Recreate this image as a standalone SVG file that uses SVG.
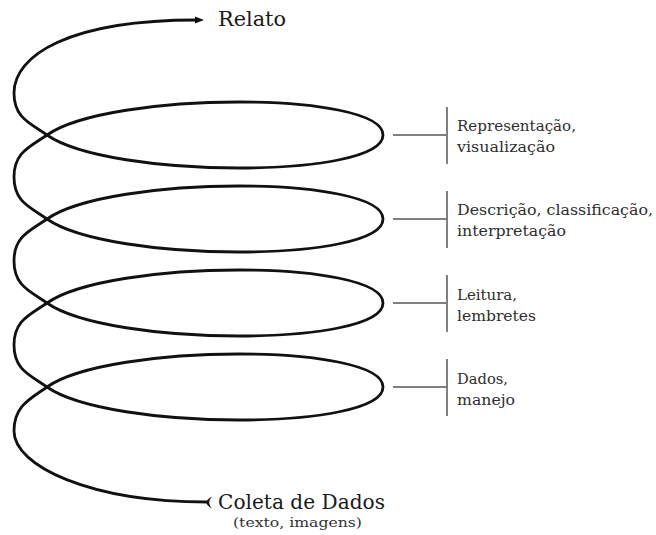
<svg xmlns="http://www.w3.org/2000/svg" width="656" height="535" viewBox="0 0 656 535">
<style>
.spiral{fill:none;stroke:#111;stroke-width:2.8;stroke-linecap:round;stroke-linejoin:round}
.tick{fill:none;stroke:#808080;stroke-width:2}
.lbl{font-family:"DejaVu Serif","Liberation Serif",serif;font-size:15.5px;fill:#2e2e2e}
.ttl{font-family:"DejaVu Serif","Liberation Serif",serif;font-size:21px;fill:#1a1a1a}
.sub{font-family:"DejaVu Serif","Liberation Serif",serif;font-size:13px;fill:#333}
</style>
<defs>
<marker id="arrow" markerUnits="userSpaceOnUse" markerWidth="12" markerHeight="12" refX="1" refY="6" orient="auto" viewBox="0 0 12 12">
<path d="M0,2.5 L9,6 L0,9.5 Z" fill="#111"/>
</marker>
</defs>
<rect width="656" height="535" fill="#fff"/>
<g id="connectors">
<path class="spiral" marker-end="url(#arrow)" d="M207,502 C90,502 14,466 14,431 C14,406 30,399 47,387 C110,343 383,343 383,387 C383,431 110,431 47,387 C30,375 14,370 14,345 C14,320 30,315 47,303 C110,259 383,259 383,303 C383,347 110,347 47,303 C30,291 14,286 14,261 C14,236 30,231 47,219 C110,175 383,175 383,219 C383,263 110,263 47,219 C30,207 14,202 14,177 C14,152 30,147 47,135 C110,91 383,91 383,135 C383,179 110,179 47,135 C30,123 14,118 14,93 C14,55 70,20 196,20"/>
<path d="M212,496.5 Q201,502.5 212,508.5 Q206.5,502.5 212,496.5 Z" fill="#111"/>
<path class="tick" d="M393,135 H447 M447,107 V164"/>
<path class="tick" d="M393,219 H447 M447,191 V248"/>
<path class="tick" d="M393,303 H447 M447,275 V332"/>
<path class="tick" d="M393,387 H447 M447,359 V416"/>
</g>
<g id="relato"><text class="ttl" x="218" y="26" textLength="68" lengthAdjust="spacingAndGlyphs">Relato</text></g>
<g id="coleta">
<text class="ttl" x="218" y="509" textLength="167" lengthAdjust="spacingAndGlyphs">Coleta de Dados</text>
<text class="sub" x="233" y="527" textLength="129" lengthAdjust="spacingAndGlyphs">(texto, imagens)</text>
</g>
<g id="n1">
<text class="lbl" x="457" y="131" textLength="119" lengthAdjust="spacingAndGlyphs">Representação,</text>
<text class="lbl" x="457" y="152" textLength="98" lengthAdjust="spacingAndGlyphs">visualização</text>
</g>
<g id="n2">
<text class="lbl" x="457" y="215" textLength="196" lengthAdjust="spacingAndGlyphs">Descrição, classificação,</text>
<text class="lbl" x="457" y="236" textLength="109" lengthAdjust="spacingAndGlyphs">interpretação</text>
</g>
<g id="n3">
<text class="lbl" x="457" y="300" textLength="60" lengthAdjust="spacingAndGlyphs">Leitura,</text>
<text class="lbl" x="457" y="321" textLength="79" lengthAdjust="spacingAndGlyphs">lembretes</text>
</g>
<g id="n4">
<text class="lbl" x="457" y="384" textLength="51" lengthAdjust="spacingAndGlyphs">Dados,</text>
<text class="lbl" x="457" y="405" textLength="58" lengthAdjust="spacingAndGlyphs">manejo</text>
</g>
</svg>
